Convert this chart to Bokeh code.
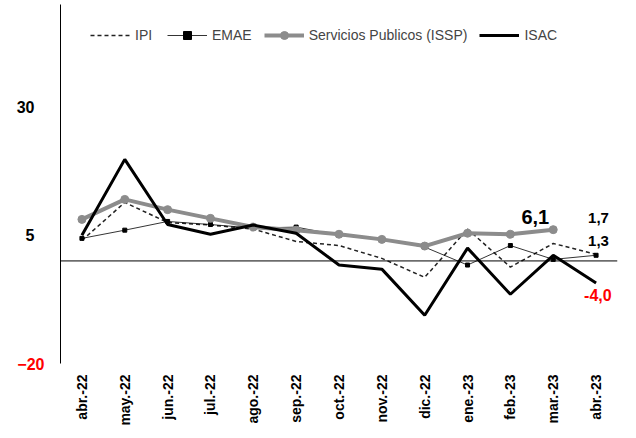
from bokeh.plotting import figure
from bokeh.models import Span, Legend, LegendItem, FixedTicker, LinearAxis
from bokeh.core.properties import value
from bokeh.embed import file_html
from bokeh.resources import INLINE

months = ["abr.-22", "may.-22", "jun.-22", "jul.-22", "ago.-22", "sep.-22", "oct.-22",
          "nov.-22", "dic.-22", "ene.-23", "feb.-23", "mar.-23", "abr.-23"]
ipi = [4.0, 11.4, 7.5, 7.0, 6.2, 3.8, 3.0, 0.5, -3.2, 6.2, -1.2, 3.4, 1.3]
emae = [4.4, 6.0, 7.7, 7.1, 6.4, 6.6, 5.0, 4.2, 2.7, -0.8, 3.0, 0.3, 1.1]
issp = [8.1, 12.0, 10.0, 8.3, 6.6, 6.0, 5.2, 4.2, 2.9, 5.4, 5.2, 6.1]
isac = [5.0, 19.8, 7.1, 5.2, 7.0, 5.4, -0.8, -1.6, -10.6, 2.5, -6.5, 1.1, -4.3]
red_ticks = [-20]
black_ticks = [5, 30]

FONT = "Liberation Sans"

p = figure(x_range=months, y_range=(-20, 50), width=620, height=428,
           output_backend="svg", toolbar_location=None,
           min_border_left=60, min_border_right=3, min_border_top=4, min_border_bottom=50)
p.x_range.range_padding = 0.0
p.outline_line_color = None
p.grid.grid_line_color = None
p.background_fill_color = "white"

# inner axis: the red -20 label and the axis line
p.yaxis.ticker = FixedTicker(ticks=red_ticks)
p.yaxis.major_label_text_font = FONT
p.yaxis.major_label_text_font_style = "bold"
p.yaxis.major_label_text_font_size = "16px"
p.yaxis.major_label_text_color = "red"
p.yaxis.axis_line_color = "black"
p.yaxis.major_tick_in = 0
p.yaxis.major_tick_out = 0
p.yaxis.minor_tick_line_color = None
p.yaxis.major_label_standoff = 16

# outer axis: black labels, pulled back in line with the red one
ax2 = LinearAxis(ticker=FixedTicker(ticks=black_ticks), axis_line_color=None,
                 major_tick_line_color=None, minor_tick_line_color=None,
                 major_label_text_font=FONT, major_label_text_font_style="bold",
                 major_label_text_font_size="16px", major_label_text_color="black",
                 major_label_standoff=-26)
p.add_layout(ax2, "left")

p.xaxis.major_label_orientation = 1.5708
p.xaxis.major_label_text_font = FONT
p.xaxis.major_label_text_font_style = "bold"
p.xaxis.major_label_text_font_size = "14px"
p.xaxis.major_label_text_color = "black"
p.xaxis.axis_line_color = None
p.xaxis.major_tick_line_color = None

p.add_layout(Span(location=0, dimension="width", line_color="black", line_width=1))

r_ipi = p.line(months, ipi, line_color="#222222", line_width=1.5, line_dash="4 3")
r_emae = p.line(months, emae, line_color="black", line_width=0.8)
r_emae_m = p.scatter(months, emae, marker="square", size=4, color="black")
r_issp = p.line(months[:len(issp)], issp, line_color="#8c8c8c", line_width=4)
r_issp_m = p.scatter(months[:len(issp)], issp, size=8, color="#8c8c8c")
r_isac = p.line(months, isac, line_color="black", line_width=3)

legend = Legend(items=[
    LegendItem(label="IPI", renderers=[r_ipi]),
    LegendItem(label="EMAE", renderers=[r_emae, r_emae_m]),
    LegendItem(label="Servicios Publicos (ISSP)", renderers=[r_issp, r_issp_m]),
    LegendItem(label="ISAC", renderers=[r_isac]),
], orientation="horizontal", location=(30, 318), border_line_color=None,
    background_fill_alpha=0, label_text_font=FONT, label_text_font_size="14px",
    spacing=12, glyph_width=40, padding=2)
p.add_layout(legend, "center")

p.text(x=["mar.-23"], y=[6.1], text=["6,1"], x_offset=-4, y_offset=-6,
       text_align="right", text_baseline="bottom", text_font=value(FONT),
       text_font_style="bold", text_font_size="20px", text_color="black")
p.text(x=["abr.-23"], y=[6.6], text=["1,7"], x_offset=-8, y_offset=-4,
       text_align="left", text_baseline="bottom", text_font=value(FONT),
       text_font_style="bold", text_font_size="15px", text_color="black")
p.text(x=["abr.-23"], y=[1.3], text=["1,3"], x_offset=-8, y_offset=-8,
       text_align="left", text_baseline="bottom", text_font=value(FONT),
       text_font_style="bold", text_font_size="15px", text_color="black")
p.text(x=["abr.-23"], y=[-4.3], text=["-4,0"], x_offset=-12, y_offset=6,
       text_align="left", text_baseline="top", text_font=value(FONT),
       text_font_style="bold", text_font_size="16px", text_color="red")

open("out.html", "w").write(file_html(p, INLINE))
